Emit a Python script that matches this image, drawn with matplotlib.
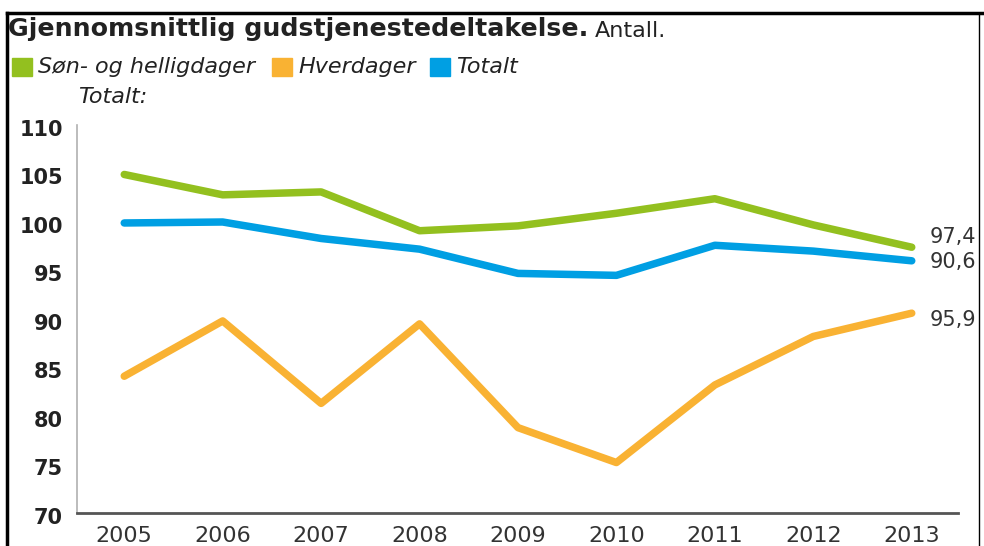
import matplotlib
matplotlib.use("Agg")
from matplotlib import pyplot as plt
from matplotlib.lines import Line2D
from matplotlib.transforms import ScaledTranslation

# Gjennomsnittlig gudstjenestedeltakelse
years = [2005, 2006, 2007, 2008, 2009, 2010, 2011, 2012, 2013]
sondager = [104.9, 102.8, 103.1, 99.1, 99.6, 100.9, 102.4, 99.7, 97.4]
hverdager = [84.1, 89.8, 81.3, 89.5, 78.8, 75.2, 83.2, 88.2, 90.6]
totalt = [99.9, 100.0, 98.3, 97.2, 94.7, 94.5, 97.6, 97.0, 96.0]

series_names = ["Søn- og helligdager", "Hverdager", "Totalt"]
# end labels as printed in the original graphic
end_labels = ["97,4", "95,9", "90,6"]
y_ticks = [70, 75, 80, 85, 90, 95, 100, 105, 110]

GREEN = "#93c01f"
ORANGE = "#f9b233"
BLUE = "#009fe3"
TXT = "#222222"

plt.rcParams["font.family"] = ["DejaVu Sans"]

fig = plt.figure(figsize=(9.84, 5.46), dpi=100)
ax = fig.add_axes([77 / 984, 1 - 513 / 546, 881 / 984, 388 / 546])

colors = [GREEN, ORANGE, BLUE]
offsets = [(13, 7), (13, -5), (13, -1)]
for vals, col, lab, off in zip([sondager, hverdager, totalt], colors, end_labels, offsets):
    ax.plot(years, vals, color=col, lw=5.4, solid_capstyle="round",
            solid_joinstyle="round")
    ax.annotate(lab, xy=(years[-1], vals[-1]), xytext=off, textcoords="offset points",
                ha="left", va="center", fontsize=15, color="#333333")

ax.set_xlim(2004.52, 2013.47)
ax.set_ylim(70, 110)
ax.set_yticks(y_ticks)
ax.set_xticks(years)
ax.set_xticklabels([str(y) for y in years], fontsize=16, color="#333333")
ax.set_yticklabels([str(v) for v in y_ticks], fontsize=15, fontweight="bold", color=TXT)
ax.tick_params(axis="both", length=0)
ax.tick_params(axis="y", pad=10)
ax.tick_params(axis="x", pad=9)
shift = ScaledTranslation(0, -3 / 100, fig.dpi_scale_trans)
for t in ax.get_yticklabels():
    t.set_transform(t.get_transform() + shift)

for s in ["top", "right"]:
    ax.spines[s].set_visible(False)
ax.spines["left"].set_color("#b0b0b0")
ax.spines["left"].set_linewidth(1.2)
ax.spines["bottom"].set_color("#555555")
ax.spines["bottom"].set_linewidth(2)

# title and legend line
fig.text(8 / 984, 1 - 29 / 546, "Gjennomsnittlig gudstjenestedeltakelse.", fontsize=18.2,
         fontweight="bold", color=TXT, va="center", ha="left")
fig.text(595 / 984, 1 - 31 / 546, "Antall.", fontsize=16, color=TXT, va="center")

leg_x = [12, 272, 430]
for x0, col, name in zip(leg_x, colors, series_names):
    fig.patches.append(plt.Rectangle((x0 / 984, 1 - 76 / 546), 20 / 984, 18 / 546,
                                     transform=fig.transFigure, color=col))
    fig.text((x0 + 26) / 984, 1 - 67 / 546, name, fontsize=16, style="italic",
             color=TXT, va="center")

fig.text(78 / 984, 1 - 97 / 546, "Totalt:", fontsize=16, style="italic", color=TXT,
         va="center")

# frame around the graphic
fig.lines.append(Line2D([7 / 984, 1], [1 - 13 / 546] * 2, transform=fig.transFigure,
                        color="black", lw=2.5))
fig.lines.append(Line2D([7 / 984] * 2, [0, 1 - 13 / 546], transform=fig.transFigure,
                        color="black", lw=2.5))
fig.lines.append(Line2D([979 / 984] * 2, [0, 1 - 13 / 546], transform=fig.transFigure,
                        color="black", lw=1))

fig.savefig("out.png", dpi=100)
